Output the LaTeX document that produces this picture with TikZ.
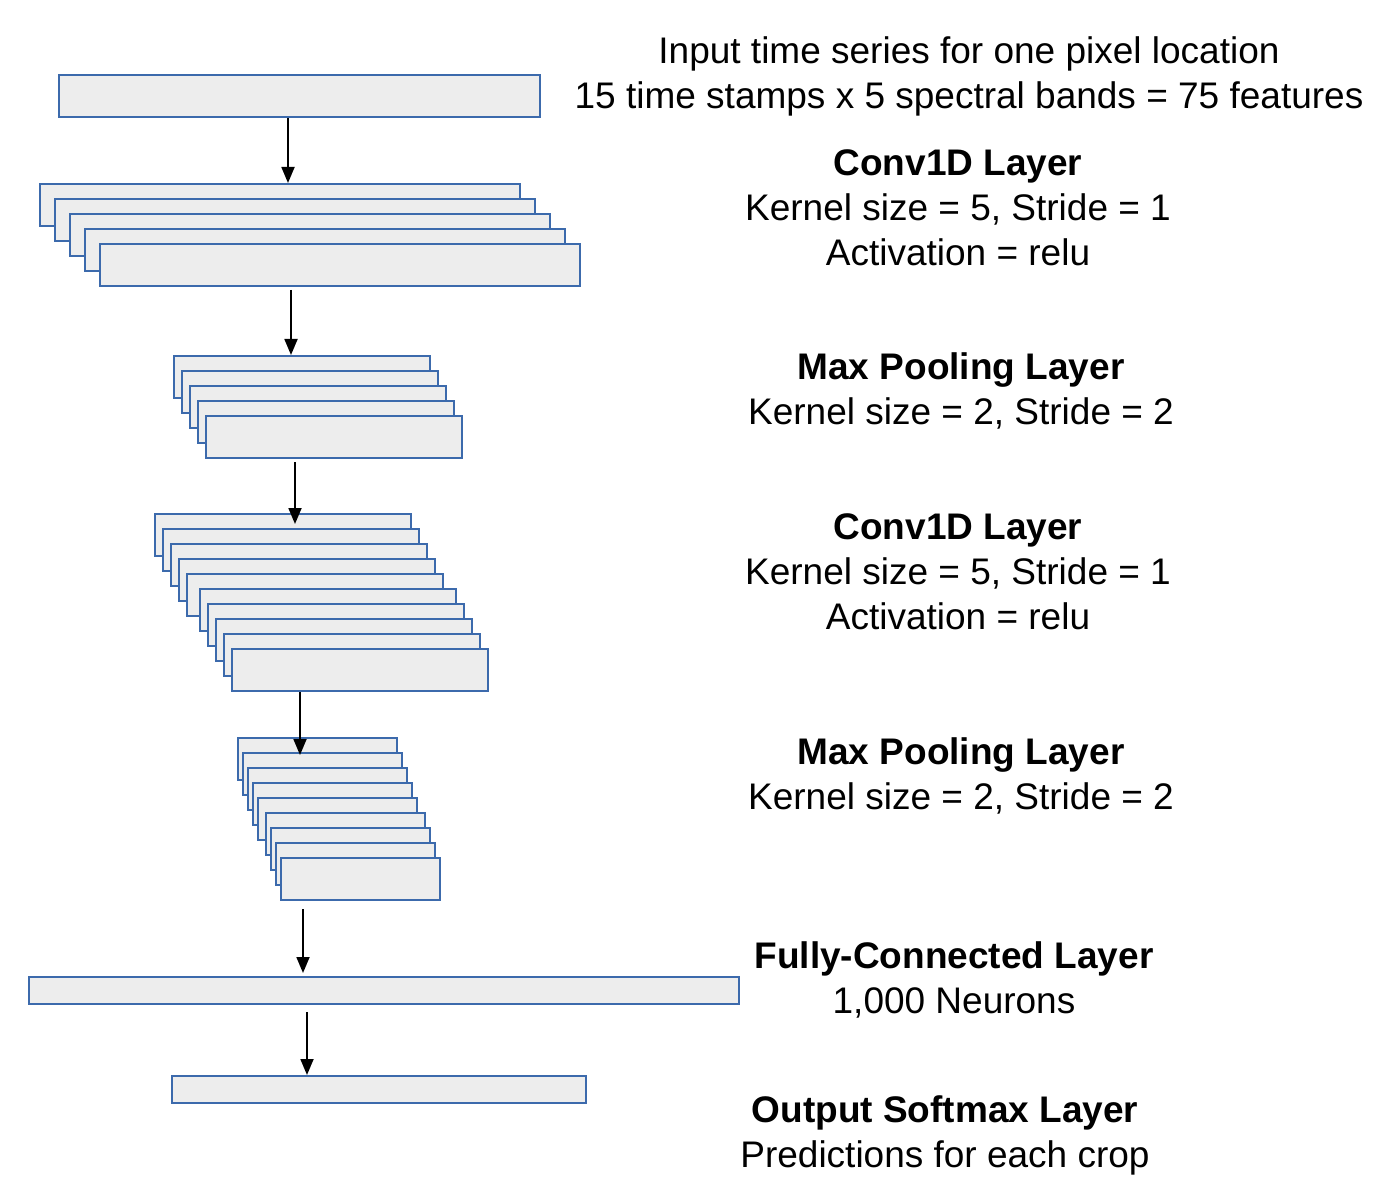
\documentclass[tikz,border=0pt]{standalone}
\usepackage{fontspec}
\setmainfont{Liberation Sans}
\usepackage{tikz}
\usetikzlibrary{arrows.meta, positioning}
\definecolor{boxblue}{RGB}{60,106,172}
\definecolor{boxgray}{RGB}{237,237,237}

\begin{document}
\begin{tikzpicture}[x=1pt, y=-1pt,
	layer/.style={draw=boxblue, fill=boxgray, line width=2pt, anchor=north west, inner sep=0pt, minimum height=42pt},
	thin layer/.style={layer, minimum height=27pt},
	flow/.style={line width=1.8pt, -{Triangle[length=16pt, width=13pt]}},
	lbl/.style={anchor=north, inner sep=0pt, align=center, font=\fontsize{37}{45}\selectfont}]
	\useasboundingbox (0,0) rectangle (1382,1198);
	\node [layer, minimum width=481pt] (in) at (58,74) {};
	\foreach \i in {1,...,5}	\node [layer, minimum width=480pt] (ca-\i) at ({39+15*(\i-1)},{183+15*(\i-1)}) {};
	\foreach \i in {1,...,5}	\node [layer, minimum width=256pt] (pa-\i) at ({173+8*(\i-1)},{355+15*(\i-1)}) {};
	\foreach \x [count=\i] in {154,162,170,178,186,199,207,215,223,231}%
				\node [layer, minimum width=256pt] (cb-\i) at (\x,{513+15*(\i-1)}) {};
	\foreach \x [count=\i] in {237,242,247,252,257,265,270,275,280}%
				\node [layer, minimum width=159pt] (pb-\i) at (\x,{737+15*(\i-1)}) {};
	\node [thin layer, minimum width=710pt] (fc) at (28,976) {};
	\node [thin layer, minimum width=414pt] (out) at (171,1075) {};
	\draw [flow] (288,0 |- in.south) -- (288,0 |- ca-1.north);
	\draw [flow, shorten <=3pt] (291,0 |- ca-5.south) -- (291,0 |- pa-1.north);
	\draw [flow, shorten <=3pt, shorten >=-11pt] (295,0 |- pa-5.south) -- (295,0 |- cb-1.north);
	\draw [flow, shorten >=-18pt] (300,0 |- cb-10.south) -- (300,0 |- pb-1.north);
	\draw [flow, shorten <=8pt, shorten >=3pt] (303,0 |- pb-9.south) -- (303,0 |- fc.north);
	\draw [flow, shorten <=7pt] (307,0 |- fc.south) -- (307,0 |- out.north);
	\node [lbl] (t-in) at (969,36) {Input time series for one pixel location\\15 time stamps x 5 spectral bands = 75 features};
	\node [lbl] (t-ca) at (958,149) {\textbf{Conv1D Layer}\\Kernel size = 5, Stride = 1\\Activation = relu};
	\node [lbl] (t-pa) at (961,352) {\textbf{Max Pooling Layer}\\Kernel size = 2, Stride = 2};
	\node [lbl] (t-cb) at (958,513) {\textbf{Conv1D Layer}\\Kernel size = 5, Stride = 1\\Activation = relu};
	\node [lbl] (t-pb) at (961,737) {\textbf{Max Pooling Layer}\\Kernel size = 2, Stride = 2};
	\node [lbl] (t-fc) at (954,941) {\textbf{Fully-Connected Layer}\\1,000 Neurons};
	\node [lbl] (t-out) at (945,1095) {\textbf{Output Softmax Layer}\\Predictions for each crop};
\end{tikzpicture}
\end{document}
